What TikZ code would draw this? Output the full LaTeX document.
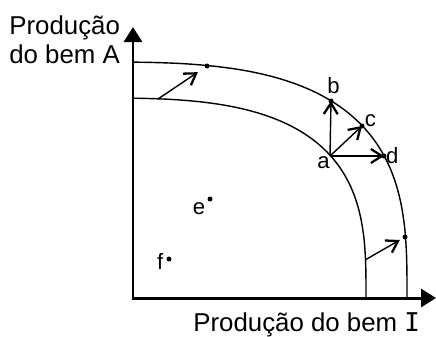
\documentclass[tikz,border=0pt]{standalone}
\usepackage{fontspec}
\setmainfont{Liberation Sans}
\newfontfamily\romanI{DejaVu Sans Mono}
\usetikzlibrary{arrows.meta,positioning}

\begin{document}
\begin{tikzpicture}[x=.02cm,y=-.02cm,
    axis/.style={line width=1.7pt,
      {Triangle[length=.3cm,width=.36cm]}-{Triangle[length=.3cm,width=.36cm]}},
    frontier/.style={line width=.8pt},
    moveArrow/.style={line width=.8pt,
      -{Straight Barb[length=2.2mm,width=2.8mm,line width=1.3pt]}},
    pointLabel/.style={inner sep=0pt,font=\fontsize{12.6}{15}\selectfont},
    axisLabel/.style={inner sep=0pt,font=\fontsize{14.7}{17}\selectfont}]
    \useasboundingbox (0,0) rectangle (436,336);
    \coordinate (origin) at (133,298);
    \coordinate (yEnd) at (133,27);
    \coordinate (xEnd) at (436,298);
    % fronteiras de possibilidades
    \begin{scope}
      \clip (133,0) rectangle (436,298);
      \draw[frontier] plot[domain=0:90,samples=120,variable=\t]
        ({90+276*max(cos(\t),0.00001)^0.645},{298-200*max(sin(\t),0.00001)^0.645});
      \draw[frontier] plot[domain=0:90,samples=120,variable=\t]
        ({90+317*max(cos(\t),0.00001)^0.645},{298-236*max(sin(\t),0.00001)^0.645});
    \end{scope}
    \draw[axis] (yEnd) -- (origin) -- (xEnd);
    \coordinate (pointA) at (330,156);
    \coordinate (pointB) at (331,101);
    \coordinate (pointC) at (362,126);
    \coordinate (pointD) at (384,156);
    \coordinate (pointE) at (210,199);
    \coordinate (pointF) at (169,259);
    \coordinate (innerTop) at (158,99);
    \coordinate (outerTop) at (207,66);
    \coordinate (innerRight) at (365,260);
    \coordinate (outerRight) at (405,237);
    \draw[moveArrow] (pointA) -- (pointB);
    \draw[moveArrow] (pointA) -- (pointC);
    \draw[moveArrow] (pointA) -- (pointD);
    \draw[moveArrow,shorten >=.22cm] (innerTop) -- (outerTop);
    \draw[moveArrow,shorten >=.12cm] (innerRight) -- (outerRight);
    \foreach \p in {pointB,pointC,pointD,pointE,pointF,outerTop,outerRight}
      \fill (\p) circle (.05cm);
    \node[pointLabel,below left=0pt and 0pt of pointA] (labelA) {a};
    \node[pointLabel,above=4pt of pointB,xshift=1.5pt] (labelB) {b};
    \node[pointLabel,above right=-.5pt and 1.5pt of pointC] (labelC) {c};
    \node[pointLabel,right=1pt of pointD] (labelD) {d};
    \node[pointLabel,below left=2pt and 2.5pt of pointE] (labelE) {e};
    \node[pointLabel,left=3pt of pointF,yshift=-1.5pt] (labelF) {f};
    \node[axisLabel,anchor=north west,align=left] (labelGoodA) at (9,15)
      {Produção\\do bem A};
    \node[axisLabel,anchor=base west] (labelGoodI) at (193,331)
      {Produção do bem {\romanI I}};
  \end{tikzpicture}
\end{document}
